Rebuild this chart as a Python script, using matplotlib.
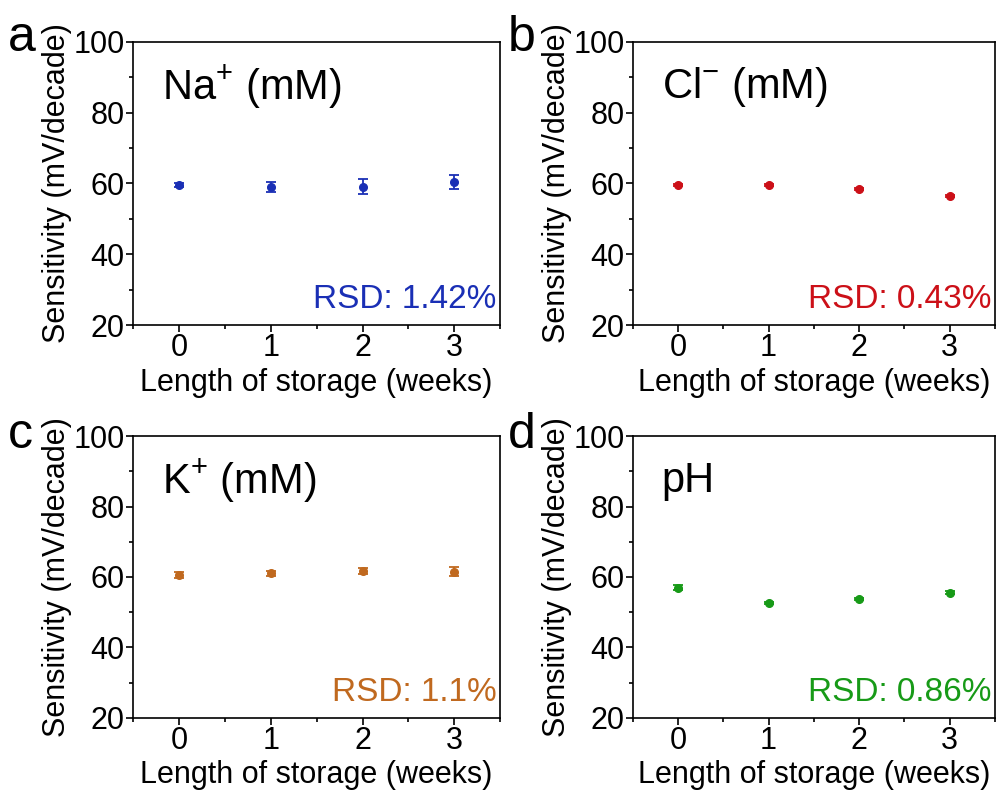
import numpy as np
import matplotlib
matplotlib.use("Agg")
import matplotlib.pyplot as plt
from matplotlib.ticker import MultipleLocator

plt.rcParams['font.family'] = ['Liberation Sans', 'DejaVu Sans']
plt.rcParams['mathtext.fontset'] = 'custom'
plt.rcParams['mathtext.rm'] = 'Liberation Sans'

# ------------------------------
# Data
# ------------------------------
weeks = [0, 1, 2, 3]

na_mean = [59.5, 58.9, 59.0, 60.3]
na_err = [0.6, 1.4, 2.1, 2.0]

cl_mean = [59.6, 59.5, 58.3, 56.5]
cl_err = [0.3, 0.3, 0.3, 0.3]

k_mean = [60.5, 61.0, 61.7, 61.5]
k_err = [0.8, 0.8, 0.9, 1.2]

ph_mean = [57.0, 52.6, 53.8, 55.6]
ph_err = [0.8, 0.3, 0.3, 0.3]

titles = ["Na$^{+}$ (mM)", "Cl$^{-}$ (mM)", "K$^{+}$ (mM)", "pH"]
rsd_labels = ["RSD: 1.42%", "RSD: 0.43%", "RSD: 1.1%", "RSD: 0.86%"]
panel_letters = ["a", "b", "c", "d"]
colors = ["#1a2fb5", "#cc1018", "#c0691f", "#179a17"]

# ------------------------------
# Figure layout
# ------------------------------
fig = plt.figure(figsize=(9.98, 7.98), dpi=100)

boxes = [
    [0.1333, 0.5927, 0.368, 0.355],
    [0.634, 0.5927, 0.363, 0.355],
    [0.1333, 0.1003, 0.368, 0.3533],
    [0.634, 0.1003, 0.363, 0.3533],
]
letter_pos = [(0.008, 0.952), (0.509, 0.952), (0.008, 0.455), (0.509, 0.455)]

means = [na_mean, cl_mean, k_mean, ph_mean]
errs = [na_err, cl_err, k_err, ph_err]

for i in range(4):
    ax = fig.add_axes(boxes[i])
    ax.errorbar(weeks, means[i], yerr=errs[i], fmt='o', color=colors[i],
                markersize=5.5, capsize=3.5, elinewidth=1.3, capthick=1.3)

    ax.set_xlim(-0.5, 3.5)
    ax.set_ylim(20, 100)
    ax.xaxis.set_major_locator(MultipleLocator(1))
    ax.xaxis.set_minor_locator(MultipleLocator(0.5))
    ax.yaxis.set_major_locator(MultipleLocator(20))
    ax.yaxis.set_minor_locator(MultipleLocator(10))
    ax.tick_params(which='major', direction='out', length=5, width=1.2,
                   labelsize=22, pad=1)
    ax.tick_params(which='minor', direction='out', length=3, width=1.2)
    for sp in ax.spines.values():
        sp.set_linewidth(1.2)

    ax.set_xlabel("Length of storage (weeks)", fontsize=22, labelpad=3)
    ax.set_ylabel("Sensitivity (mV/decade)", fontsize=22, labelpad=1)

    ax.text(0.08, 0.84, titles[i], transform=ax.transAxes, fontsize=30,
            ha='left', va='center')
    ax.text(0.99, 0.09, rsd_labels[i], transform=ax.transAxes, fontsize=24,
            ha='right', va='center', color=colors[i])

    fig.text(letter_pos[i][0], letter_pos[i][1], panel_letters[i],
             fontsize=36, ha='left', va='center')

fig.savefig("out.png", dpi=100)
